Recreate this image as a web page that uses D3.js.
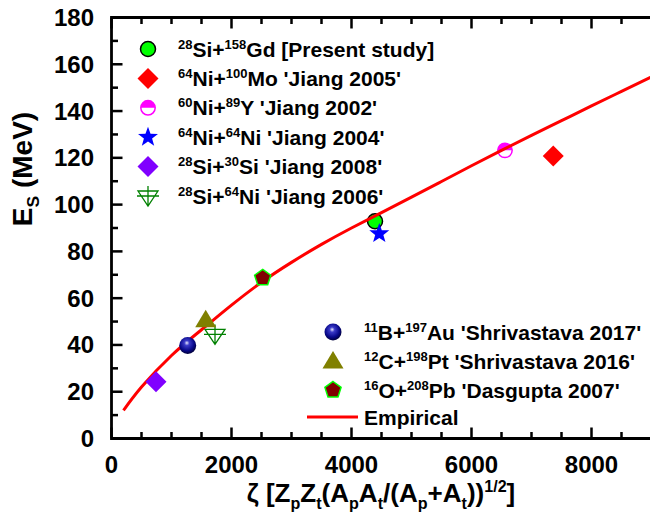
<!DOCTYPE html>
<html>
<head>
<meta charset="utf-8">
<script src="https://cdn.jsdelivr.net/npm/d3@7"></script>
<style>
	body { margin: 0; background: #fff; }
	svg { display: block; font-family: "Liberation Sans", Arial, sans-serif; font-weight: bold; }
</style>
</head>
<body>
<svg id="chart"></svg>
<script>
// experimental points (zeta, Es in MeV)
const seriesNames = [
	"^{28}Si+^{158}Gd [Present study]",
	"^{64}Ni+^{100}Mo 'Jiang 2005'",
	"^{60}Ni+^{89}Y 'Jiang 2002'",
	"^{64}Ni+^{64}Ni 'Jiang 2004'",
	"^{28}Si+^{30}Si 'Jiang 2008'",
	"^{28}Si+^{64}Ni 'Jiang 2006'",
	"^{11}B+^{197}Au 'Shrivastava 2017'",
	"^{12}C+^{198}Pt 'Shrivastava 2016'",
	"^{16}O+^{208}Pb 'Dasgupta 2007'"
];
const seriesMarkers = ["circle", "diamondRed", "halfCircle", "star", "diamondPurple", "triDownCross", "ball", "triangle", "pentagon"];
const zetaValues = [4392, 7363, 6558, 4463, 742, 1725, 1270, 1570, 2520];
const esValues = [92.9, 120.8, 123.2, 87.6, 24.3, 44.5, 39.8, 50.8, 68.7];

// empirical curve
const empiricalZeta = [200, 500, 1000, 1500, 2000, 2500, 3000, 3500, 4000, 4500, 5000, 5500, 6000, 6500, 7000, 7500, 8000, 8500, 9000];
const empiricalEs = [12, 22, 35.5, 46.5, 57, 66.8, 75.3, 83, 90, 96.6, 103.2, 109.9, 116.6, 123.2, 129.6, 135.9, 142.2, 148.4, 154.6];

const xMajorTicks = [0, 2000, 4000, 6000, 8000];
const yMajorTicks = [0, 20, 40, 60, 80, 100, 120, 140, 160, 180];

const width = 650;
const height = 531;

const svg = d3.select("#chart")
	.attr("width", width)
	.attr("height", height);

const x = d3.scaleLinear().domain([0, 9000]).range([111.5, 651.5]);
const y = d3.scaleLinear().domain([0, 180]).range([438.5, 17.5]);

// write text with ^{sup} and _{sub} parts as tspans
function richText(textSel, str, size) {
	const parts = str.split(/([\^_]\{[^}]*\})/).filter(s => s.length);
	let shift = 0;
	parts.forEach(p => {
		let target = 0, txt = p, fs = size;
		if (p[0] === "^") { target = -0.38 * size; txt = p.slice(2, -1); fs = size * 0.62; }
		else if (p[0] === "_") { target = 0.25 * size; txt = p.slice(2, -1); fs = size * 0.62; }
		textSel.append("tspan")
			.attr("dy", target - shift)
			.style("font-size", fs + "px")
			.text(txt);
		shift = target;
	});
}

// gradient for the blue ball marker
const defs = svg.append("defs");
const grad = defs.append("radialGradient")
	.attr("id", "ballGrad")
	.attr("cx", "45%").attr("cy", "40%").attr("r", "60%")
	.attr("fx", "45%").attr("fy", "35%");
grad.append("stop").attr("offset", "0%").attr("stop-color", "#e8e8ff");
grad.append("stop").attr("offset", "25%").attr("stop-color", "#3a3ac8");
grad.append("stop").attr("offset", "70%").attr("stop-color", "#08088a");
grad.append("stop").attr("offset", "100%").attr("stop-color", "#00003a");

function starPath(ro, ri) {
	const pts = [];
	for (let i = 0; i < 10; i++) {
		const r = i % 2 ? ri : ro;
		const a = -Math.PI / 2 + i * Math.PI / 5;
		pts.push([r * Math.cos(a), r * Math.sin(a)]);
	}
	return "M" + pts.join("L") + "Z";
}

function polyPath(n, r) {
	const pts = [];
	for (let i = 0; i < n; i++) {
		const a = -Math.PI / 2 + i * 2 * Math.PI / n;
		pts.push([r * Math.cos(a), r * Math.sin(a)]);
	}
	return "M" + pts.join("L") + "Z";
}

function drawMarker(g, type) {
	switch (type) {
		case "circle":
			g.append("circle").attr("r", 7.5).attr("fill", "#00ff00")
				.attr("stroke", "#000").attr("stroke-width", 1.5);
			break;
		case "diamondRed":
		case "diamondPurple":
			g.append("path").attr("d", "M0,-10.5L10.5,0L0,10.5L-10.5,0Z")
				.attr("fill", type === "diamondRed" ? "#ff0000" : "#8000ff");
			break;
		case "halfCircle":
			g.append("circle").attr("r", 7.2).attr("fill", "#fff")
				.attr("stroke", "#ff00ff").attr("stroke-width", 1.5);
			g.append("path").attr("d", "M-7.2,0A7.2,7.2 0 0 1 7.2,0Z").attr("fill", "#ff00ff");
			break;
		case "star":
			g.append("path").attr("d", starPath(10.5, 4.3)).attr("fill", "#0000ff");
			break;
		case "triDownCross":
			g.append("path").attr("d", "M-10,-5L10,-5L0,10Z M0,-10L0,10 M-11,0L11,0")
				.attr("fill", "none").attr("stroke", "#008000").attr("stroke-width", 1.3);
			break;
		case "ball":
			g.append("circle").attr("r", 8.5).attr("fill", "url(#ballGrad)");
			break;
		case "triangle":
			g.append("path").attr("d", "M0,-10L10.5,7.5L-10.5,7.5Z").attr("fill", "#808000");
			break;
		case "pentagon":
			g.append("path").attr("d", polyPath(5, 8.5)).attr("fill", "#800000")
				.attr("stroke", "#00ff00").attr("stroke-width", 1.5);
			break;
	}
}

// axis frame and inward ticks
const axes = svg.append("g").attr("fill", "#000");
const xTickVals = d3.range(0, 9001, 500);
const yTickVals = d3.range(0, 181, 10);

axes.selectAll(null)
	.data(xTickVals)
	.enter().append("rect")
	.attr("x", d => x(d) - 1.25)
	.attr("y", d => y(0) - (d % 2000 === 0 ? 11 : 6.5))
	.attr("width", 2.5)
	.attr("height", d => d % 2000 === 0 ? 11 : 6.5);

axes.selectAll(null)
	.data(xTickVals)
	.enter().append("rect")
	.attr("x", d => x(d) - 1.25)
	.attr("y", y(180))
	.attr("width", 2.5)
	.attr("height", d => d % 2000 === 0 ? 11 : 6.5);

axes.selectAll(null)
	.data(yTickVals)
	.enter().append("rect")
	.attr("x", x(0))
	.attr("y", d => y(d) - 1.25)
	.attr("width", d => d % 20 === 0 ? 11 : 6.5)
	.attr("height", 2.5);

axes.append("path")
	.attr("d", `M${x(9000)},${y(180)}H${x(0)}V${y(0)}H${x(9000)}`)
	.attr("fill", "none")
	.attr("stroke", "#000")
	.attr("stroke-width", 2.8);

// tick labels
svg.selectAll(null)
	.data(xMajorTicks)
	.enter().append("text")
	.attr("x", d => x(d))
	.attr("y", 473)
	.attr("text-anchor", "middle")
	.style("font-size", "24px")
	.text(d3.format("d"));

svg.selectAll(null)
	.data(yMajorTicks)
	.enter().append("text")
	.attr("x", 94)
	.attr("y", d => y(d) + 8.5)
	.attr("text-anchor", "end")
	.style("font-size", "24px")
	.text(d3.format("d"));

// axis titles
const yTitle = svg.append("text")
	.attr("transform", "translate(32,169) rotate(-90)")
	.attr("text-anchor", "middle");
richText(yTitle, "E_{S} (MeV)", 28);

const xTitle = svg.append("text")
	.attr("x", 381)
	.attr("y", 502)
	.attr("text-anchor", "middle");
richText(xTitle, "\u03b6 [Z_{p}Z_{t}(A_{p}A_{t}/(A_{p}+A_{t}))^{1/2}]", 26);

// points under the curve
const points = seriesNames.map((name, i) => ({
	name, marker: seriesMarkers[i], zeta: zetaValues[i], es: esValues[i]
}));

const underCurve = ["circle", "halfCircle"];

function plotPoints(list) {
	svg.selectAll(null)
		.data(list)
		.enter().append("g")
		.attr("transform", d => `translate(${x(d.zeta)},${y(d.es)})`)
		.each(function (d) { drawMarker(d3.select(this), d.marker); });
}

plotPoints(points.filter(d => underCurve.includes(d.marker)));

// empirical curve
const line = d3.line()
	.x((d, i) => x(empiricalZeta[i]))
	.y(d => y(d))
	.curve(d3.curveNatural);

svg.append("path")
	.datum(empiricalEs)
	.attr("d", line)
	.attr("fill", "none")
	.attr("stroke", "#ff0000")
	.attr("stroke-width", 3);

plotPoints(points.filter(d => !underCurve.includes(d.marker)));

// legend, top left
const legend1 = svg.append("g");
points.slice(0, 6).forEach((d, i) => {
	const row = legend1.append("g").attr("transform", `translate(0,${49 + i * 29.4})`);
	drawMarker(row.append("g").attr("transform", "translate(148,0)"), d.marker);
	const t = row.append("text").attr("x", 178).attr("y", 7.5);
	richText(t, d.name, 21);
});

// legend, bottom right
const legend2 = svg.append("g");
points.slice(6).forEach((d, i) => {
	const row = legend2.append("g").attr("transform", `translate(0,${332 + i * 29})`);
	drawMarker(row.append("g").attr("transform", "translate(333,0)"), d.marker);
	const t = row.append("text").attr("x", 364).attr("y", 7.5);
	richText(t, d.name, 21);
});
const empRow = legend2.append("g").attr("transform", "translate(0,417)");
empRow.append("line").attr("x1", 307).attr("x2", 358)
	.attr("stroke", "#ff0000").attr("stroke-width", 3);
empRow.append("text").attr("x", 364).attr("y", 7.5).style("font-size", "21px").text("Empirical");
</script>
</body>
</html>
